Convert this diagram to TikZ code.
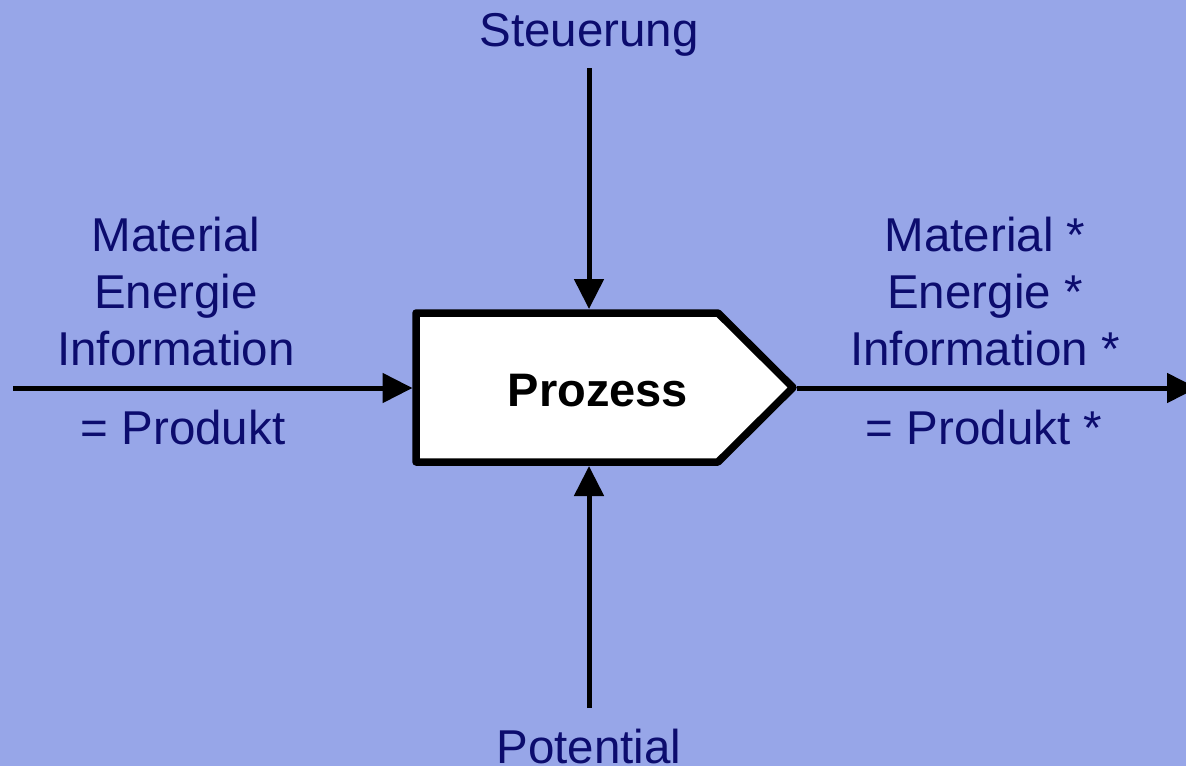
\documentclass[tikz,border=0pt]{standalone}
\usepackage{fontspec}
\setmainfont{Liberation Sans}
\usetikzlibrary{arrows.meta}
\definecolor{bgblue}{RGB}{151,166,232}
\definecolor{labelnavy}{RGB}{12,12,110}
\tikzset{
  flowarrow/.style={line width=5pt, -{Triangle[length=30pt,width=29pt]}},
  procbox/.style={draw=black, fill=white, line width=7.5pt, line join=round},
  flowlabel/.style={anchor=base, inner sep=0pt, text=labelnavy,
    font=\fontsize{47.5}{57.5}\selectfont},
  proclabel/.style={anchor=base, inner sep=0pt, text=black,
    font=\fontsize{47}{55}\selectfont\bfseries}
}
\begin{document}
\begin{tikzpicture}[x=1pt, y=-1pt]
  % canvas
  \fill[bgblue] (0,0) rectangle (1186,766);
  \useasboundingbox (0,0) rectangle (1186,766);

  % process block: pentagon pointing right
  \coordinate (nw) at (416,313);
  \coordinate (ne) at (718,313);
  \coordinate (tip) at (793,387.5);
  \coordinate (se) at (718,462);
  \coordinate (sw) at (416,462);
  \draw[procbox] (nw) -- (ne) -- (tip) -- (se) -- (sw) -- cycle;
  \node[proclabel] (proc) at (598,406) {Prozess};

  % attachment points on the outer edge of the block
  \coordinate (boxW) at (412.5,388);
  \coordinate (boxE) at (797,388);
  \coordinate (boxN) at (589,309);
  \coordinate (boxS) at (589,466);

  % free ends of the flows
  \coordinate (inW) at (13,388);
  \coordinate (outE) at (1197,388);
  \coordinate (ctrlN) at (589,68);
  \coordinate (potS) at (589,708);

  % flows
  \draw[flowarrow] (inW) -- (boxW);
  \draw[flowarrow] (boxE) -- (outE);
  \draw[flowarrow] (ctrlN) -- (boxN);
  \draw[flowarrow] (potS) -- (boxS);

  % labels
  \node[flowlabel] (steuer) at (589,46) {Steuerung};
  \node[flowlabel] (potent) at (589,763) {Potential};

  \node[flowlabel] (inMat) at (176,251.5) {Material};
  \node[flowlabel] (inEne) at (176,308.5) {Energie};
  \node[flowlabel] (inInf) at (176,365.5) {Information};
  \node[flowlabel] (inProd) at (183,444) {= Produkt};

  \node[flowlabel] (outMat) at (985,251.5) {Material *};
  \node[flowlabel] (outEne) at (985,308.5) {Energie *};
  \node[flowlabel] (outInf) at (985,365.5) {Information *};
  \node[flowlabel] (outProd) at (984,444) {= Produkt *};
\end{tikzpicture}
\end{document}
